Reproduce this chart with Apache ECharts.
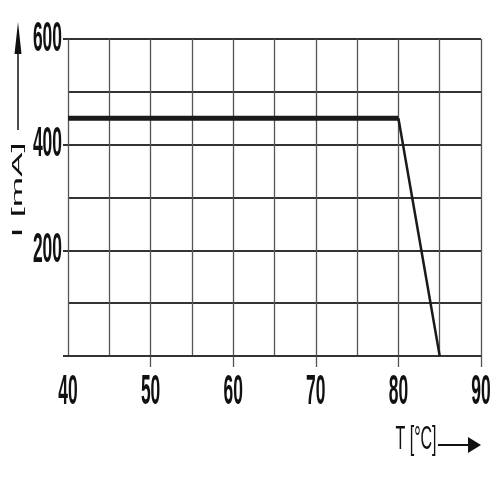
<!DOCTYPE html>
<html><head><meta charset="utf-8">
<script src="https://cdn.jsdelivr.net/npm/echarts@6/dist/echarts.min.js"></script>
<style>html,body{margin:0;padding:0;background:#fff}#c{width:500px;height:500px}</style>
</head><body><div id="c"></div>
<script>
const xValues = [40, 80, 85];
const yValues = [450, 450, 0];
const xTickLabels = [40, 50, 60, 70, 80, 90];
const xTickMarks = [50, 60, 70, 80, 90];
const yTickLabels = [200, 400, 600];
const yTickMarks = [0, 200, 400, 600];
const xAxisName = 'T [°C]';
const yAxisName = 'I [mA]';

const chart = echarts.init(document.getElementById('c'), null, {renderer: 'canvas'});
const points = xValues.map((x, i) => [x, yValues[i]]);
chart.setOption({
  animation: false,
  backgroundColor: '#fff',
  grid: {left: 68, right: 19, top: 39, bottom: 144},
  xAxis: [{
    type: 'value', min: 40, max: 90, interval: 5,
    axisLine: {show: true, lineStyle: {color: '#333', width: 2}},
    axisTick: {show: false},
    axisLabel: {show: false},
    splitLine: {show: true, lineStyle: {color: '#555', width: 1.3}}
  }, {
    type: 'value', min: 40, max: 90, position: 'bottom',
    axisLine: {show: false},
    axisTick: {show: true, customValues: xTickMarks, length: 11, lineStyle: {color: '#555', width: 1.3}},
    axisLabel: {show: false},
    splitLine: {show: false}
  }],
  yAxis: [{
    type: 'value', min: 0, max: 600, interval: 100,
    axisLine: {show: false},
    axisTick: {show: false},
    axisLabel: {show: false},
    splitLine: {show: true, lineStyle: {color: '#333', width: 2}}
  }, {
    type: 'value', min: 0, max: 600, position: 'left',
    axisLine: {show: false},
    axisTick: {show: true, customValues: yTickMarks, length: 5, lineStyle: {color: '#333', width: 2}},
    axisLabel: {show: false},
    splitLine: {show: false}
  }],
  series: [
    {type: 'line', data: points.slice(0, 2), symbol: 'none', lineStyle: {color: '#1a1a1a', width: 5, cap: 'butt'}, z: 3},
    {type: 'line', data: points.slice(1, 3), symbol: 'none', lineStyle: {color: '#1a1a1a', width: 2.5}, z: 3, clip: false}
  ]
});

const labelFont = '"Liberation Sans",Arial,sans-serif';
const g = [];
const y0 = chart.convertToPixel({yAxisIndex: 0}, 0);
const x0 = chart.convertToPixel({xAxisIndex: 0}, 40);
xTickLabels.forEach(v => {
  const px = chart.convertToPixel({xAxisIndex: 0}, v);
  g.push({type: 'text', x: px, y: y0 + 36, scaleX: 0.83, scaleY: 2,
    style: {text: String(v), fontFamily: labelFont, fontWeight: 'bold', fontSize: 21, fill: '#111', align: 'center', verticalAlign: 'middle'}});
});
yTickLabels.forEach(v => {
  const py = chart.convertToPixel({yAxisIndex: 0}, v);
  g.push({type: 'text', x: x0 - 6, y: py, scaleX: 0.83, scaleY: 2,
    style: {text: String(v), fontFamily: labelFont, fontWeight: 'bold', fontSize: 21, fill: '#111', align: 'right', verticalAlign: 'middle'}});
});
g.push({type: 'text', x: 18, y: 190, rotation: Math.PI / 2, scaleX: 2.6,
  style: {text: yAxisName, fontFamily: labelFont, fontSize: 14, fill: '#111', align: 'center', verticalAlign: 'middle'}});
g.push({type: 'text', x: 416, y: 440, scaleY: 2.1,
  style: {text: xAxisName, fontFamily: labelFont, fontSize: 16, fill: '#111', align: 'center', verticalAlign: 'middle'}});
g.push({type: 'line', shape: {x1: 18, y1: 130, x2: 18, y2: 45}, style: {stroke: '#111', lineWidth: 1.5}});
g.push({type: 'polygon', shape: {points: [[18, 22], [14.5, 54], [21.5, 54]]}, style: {fill: '#111'}});
g.push({type: 'line', shape: {x1: 438, y1: 445, x2: 470, y2: 445}, style: {stroke: '#111', lineWidth: 2}});
g.push({type: 'polygon', shape: {points: [[481, 445], [468, 437], [468, 453]]}, style: {fill: '#111'}});
chart.setOption({graphic: {elements: g}});
</script>
</body></html>
